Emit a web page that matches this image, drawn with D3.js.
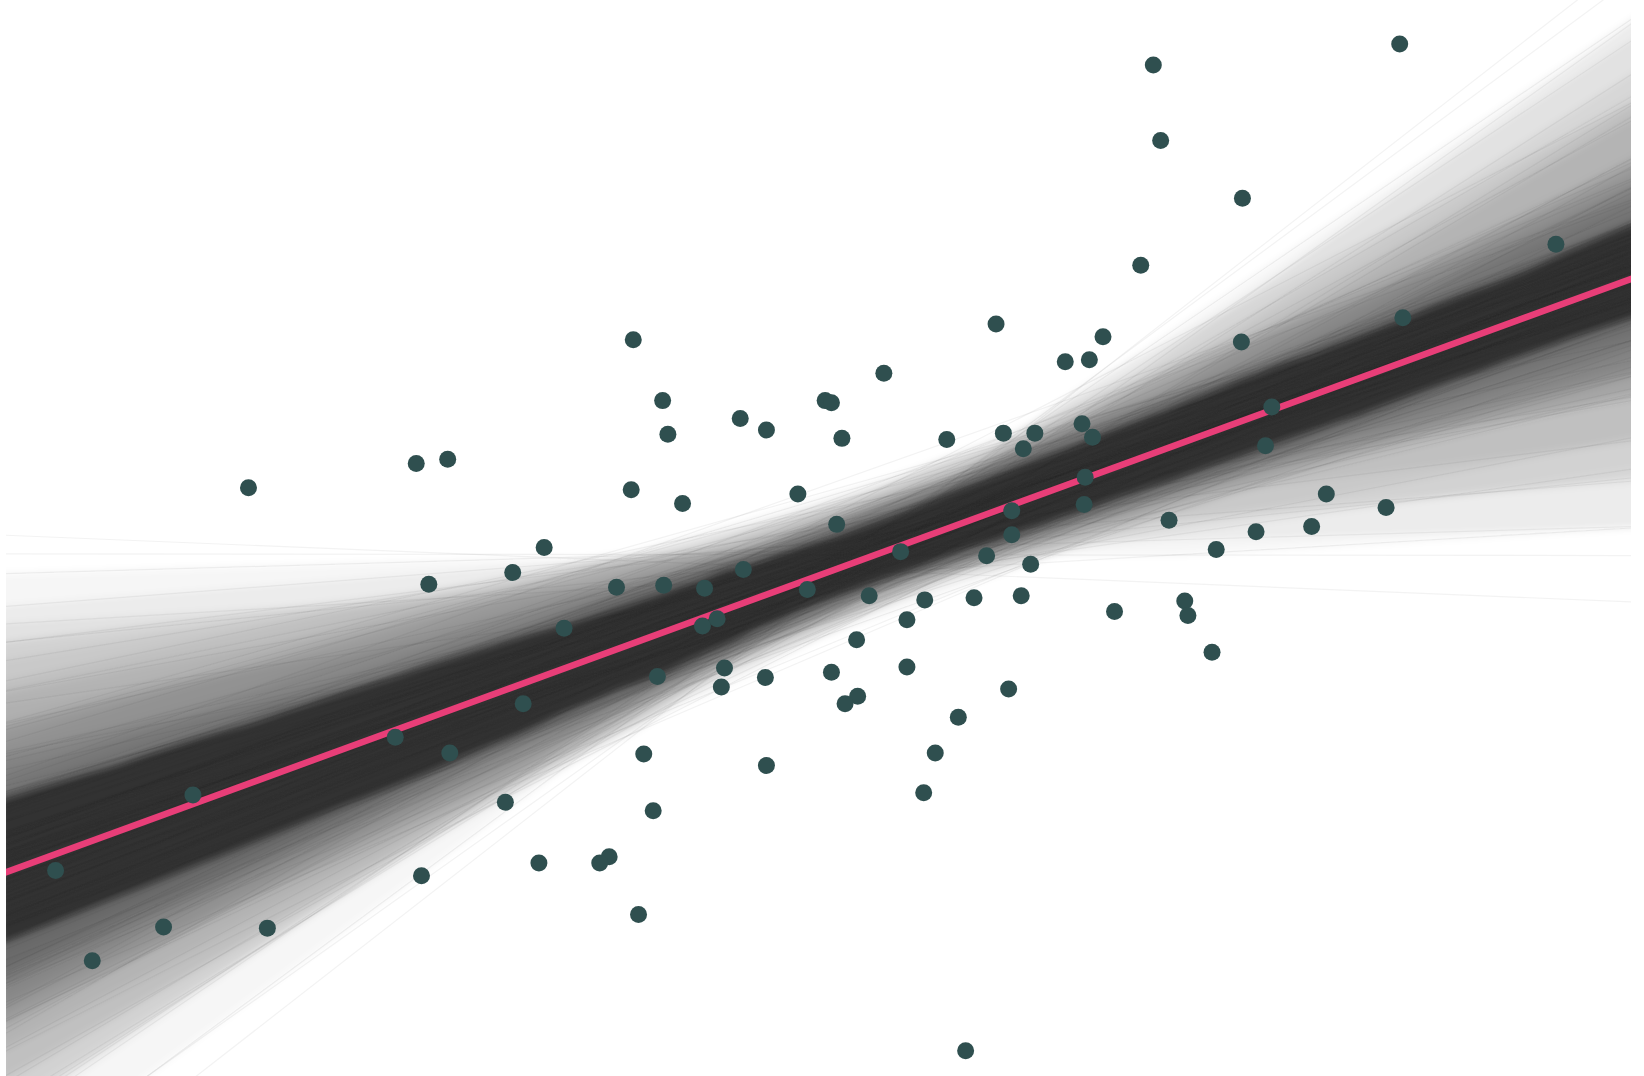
<!DOCTYPE html>
<html><head><meta charset="utf-8">
<script src="https://cdn.jsdelivr.net/npm/d3@7"></script>
<style>html,body{margin:0;padding:0;background:#fff;} svg{display:block;}</style>
</head><body><div id="chart"></div>
<script>
// Observed points (x, y in chart data units)
const pointsX = [1335,1100,1107,1185,1484,1088,950,1338,604,1052,1016,1039,1184,843,632,787,793,706,731,637,803,903,957,987,1032,1042,976,1213,1207,427,397,237,602,761,651,1035,1034,965,1265,1322,798,1115,1198,1251,965,519,1160,941,859,983,489,709,409,588,633,672,770,829,882,929,974,1130,1063,1133,865,684,670,538,817,1156,865,691,627,793,730,688,962,818,806,499,914,377,429,614,892,731,881,184,482,623,581,572,514,53,402,609,156,255,88,921];
const pointsY = [984,964,892,837,793,773,717,723,702,705,681,683,700,670,644,644,642,627,616,612,608,607,613,613,622,609,598,638,601,588,584,561,559,555,546,571,545,539,555,542,526,530,519,524,516,504,502,496,500,488,480,483,469,466,468,465,464,458,454,456,458,453,443,439,435,436,429,427,416,404,390,389,381,385,380,371,369,362,355,355,342,323,308,307,308,296,270,268,261,253,209,203,203,196,191,154,142,141,110,24];

// Fitted (mean) regression line
const fitIntercept = 192.2;
const fitSlope = 0.365;

// Posterior sample lines: value at the centre x and slope
const sampleCenterX = 801;
const sampleCenterY = [
498,451,489,464,539,480,503,457,500,500,
484,512,477,527,470,491,425,517,512,524,
493,473,522,485,507,436,514,476,510,495,
531,483,504,429,494,454,501,463,492,525,
475,513,482,549,466,488,449,499,461,533,
519,479,508,470,487,416,496,444,515,502,
481,534,456,495,472,511,431,505,484,474,
502,465,529,478,545,459,490,448,498,462,
450,497,485,506,440,493,454,561,471,488,
489,446,510,474,517,481,537,468,496,509,
477,500,452,488,552,458,503,464,494,445,
515,482,524,467,492,433,509,473,528,483,
469,521,479,568,475,507,439,487,460,499,
491,455,502,484,530,476,513,427,505,470,
462,495,443,501,483,523,466,541,478,462,
496,470,490,447,508,411,498,457,519,478,
472,526,480,511,438,504,481,556,465,488,
506,461,543,477,518,474,532,451,493,494,
459,489,471,536,467,497,448,509,482,468,
494,441,499,460,547,484,478,475,514,497];
const sampleSlopes = [
0.381,0.286,0.400,0.362,0.515,0.350,0.373,0.324,0.343,0.544,
0.367,0.390,0.252,0.378,0.335,0.426,0.354,0.407,0.124,0.436,
0.385,0.358,0.462,0.340,0.375,0.318,0.394,0.231,0.366,0.679,
0.348,0.370,0.328,0.473,0.397,0.306,0.360,0.416,0.383,0.162,
0.405,0.352,0.377,0.271,0.594,0.356,0.388,0.314,0.337,0.440,
0.364,0.393,0.216,0.380,0.347,0.412,0.332,0.493,0.372,0.029,
0.396,0.355,0.448,0.368,0.379,0.310,0.402,0.294,0.345,0.637,
0.338,0.374,0.203,0.386,0.411,0.321,0.361,0.529,0.389,0.194,
0.371,0.342,0.479,0.331,0.384,0.326,0.392,0.281,0.357,0.739,
0.351,0.399,0.302,0.376,0.365,0.420,0.334,0.457,0.382,0.077,
0.391,0.359,0.500,0.336,0.372,0.316,0.408,0.245,0.353,0.559,
0.363,0.387,0.276,0.395,0.341,0.424,0.349,0.432,0.377,-0.041,
0.378,0.330,0.486,0.354,0.401,0.312,0.369,0.223,0.346,0.576,
0.357,0.404,0.290,0.373,0.329,0.418,0.366,0.507,0.394,0.144,
0.388,0.361,0.452,0.344,0.380,0.322,0.398,0.265,0.333,0.614,
0.368,0.383,0.238,0.410,0.350,0.428,0.358,0.467,0.375,0.059,
0.403,0.339,0.522,0.356,0.371,0.309,0.385,0.298,0.327,0.661,
0.345,0.379,0.209,0.397,0.363,0.414,0.353,0.444,0.390,0.101,
0.374,0.348,0.535,0.367,0.408,0.320,0.381,0.179,0.339,0.709,
0.360,0.395,0.306,0.389,0.334,0.422,0.779,0.486,0.376,-0.001];

// Quantile bands of the sample lines
const bandLevels = [0.010,0.015,0.020,0.025,0.030,0.035,0.040,0.045,0.050,0.055,
  0.060,0.065,0.070,0.075,0.080,0.085,0.090,0.095,0.100,0.105,
  0.110,0.115,0.120,0.125,0.130,0.135,0.140,0.145,0.150,0.155];
const coreLevel = 0.16;

const W = 1644, H = 1076;
const x = d3.scaleLinear().domain([0, 1568]).range([0, W]);
const y = d3.scaleLinear().domain([0, 1026]).range([H, 0]);

const svg = d3.select('#chart').append('svg').attr('width', W).attr('height', H);
const defs = svg.append('defs');
defs.append('clipPath').attr('id', 'plot')
  .append('rect').attr('x', 6).attr('y', 0).attr('width', 1625).attr('height', H);
defs.append('filter').attr('id', 'soft')
  .attr('x', '-5%').attr('y', '-5%').attr('width', '110%').attr('height', '110%')
  .append('feGaussianBlur').attr('stdDeviation', 3.5);

const g = svg.append('g').attr('clip-path', 'url(#plot)');

const samples = sampleSlopes.map((s, i) => ({ c: sampleCenterY[i], s }));
const [x0, x1] = x.domain();
const grid = d3.range(121).map(i => x0 + (x1 - x0) * i / 120);
const sorted = grid.map(xv => samples.map(d => d.c + d.s * (xv - sampleCenterX)).sort(d3.ascending));

const band = p => d3.area()
  .curve(d3.curveBasis)
  .x((d, i) => x(grid[i]))
  .y0(d => y(d3.quantileSorted(d, p)))
  .y1(d => y(d3.quantileSorted(d, 1 - p)));

const bands = g.append('g').attr('filter', 'url(#soft)');
bandLevels.forEach(p => {
  bands.append('path').datum(sorted).attr('d', band(p))
    .attr('fill', '#333').attr('fill-opacity', 0.05);
});
bands.append('path').datum(sorted).attr('d', band(coreLevel)).attr('fill', '#333');

g.selectAll('line.sample').data(samples).join('line').attr('class', 'sample')
  .attr('x1', x(x0)).attr('x2', x(x1))
  .attr('y1', d => y(d.c + d.s * (x0 - sampleCenterX)))
  .attr('y2', d => y(d.c + d.s * (x1 - sampleCenterX)))
  .attr('stroke', '#333').attr('stroke-opacity', 0.06).attr('stroke-width', 1.2);

svg.append('g').selectAll('circle').data(pointsX).join('circle')
  .attr('cx', d => x(d)).attr('cy', (d, i) => y(pointsY[i]))
  .attr('r', 8.5).attr('fill', '#2f4f4f');

g.append('line')
  .attr('x1', x(x0)).attr('x2', x(x1))
  .attr('y1', y(fitIntercept + fitSlope * x0))
  .attr('y2', y(fitIntercept + fitSlope * x1))
  .attr('stroke', '#e83e78').attr('stroke-width', 6.5);
</script>
</body></html>
